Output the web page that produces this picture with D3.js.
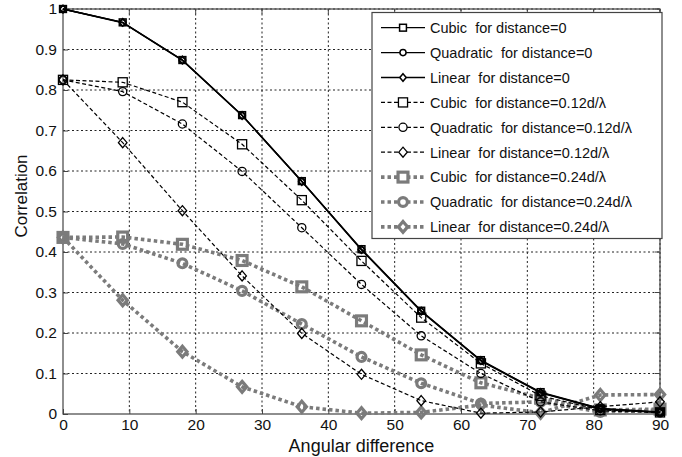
<!DOCTYPE html>
<html>
<head>
<meta charset="utf-8">
<script src="https://cdn.jsdelivr.net/npm/d3@7"></script>
<style>
  body { margin: 0; background: #fff; }
  svg { font-family: "Liberation Sans", Arial, sans-serif; }
</style>
</head>
<body>
<svg id="chart" width="682" height="457"></svg>
<script>
// angles where correlation was evaluated
const angles = [0, 9, 18, 27, 36, 45, 54, 63, 72, 81, 90];
const xTicks = [0, 10, 20, 30, 40, 50, 60, 70, 80, 90];
const yTicks = [0, 0.1, 0.2, 0.3, 0.4, 0.5, 0.6, 0.7, 0.8, 0.9, 1];

const cubic0 = [1.0, 0.967, 0.874, 0.738, 0.575, 0.407, 0.255, 0.133, 0.054, 0.014, 0.005];
const quad0  = [1.0, 0.966, 0.873, 0.737, 0.574, 0.405, 0.253, 0.131, 0.052, 0.012, 0.004];
const lin0   = [1.0, 0.967, 0.874, 0.737, 0.574, 0.406, 0.254, 0.132, 0.053, 0.013, 0.004];

const cubic12 = [0.825, 0.819, 0.770, 0.666, 0.528, 0.378, 0.238, 0.125, 0.045, 0.010, 0.004];
const quad12  = [0.825, 0.796, 0.716, 0.599, 0.460, 0.320, 0.193, 0.100, 0.030, 0.008, 0.003];
const lin12   = [0.825, 0.670, 0.502, 0.341, 0.199, 0.098, 0.033, 0.002, 0.005, 0.018, 0.030];

const cubic24 = [0.436, 0.437, 0.419, 0.379, 0.314, 0.230, 0.146, 0.077, 0.039, 0.010, 0.012];
const quad24  = [0.436, 0.420, 0.372, 0.304, 0.222, 0.141, 0.076, 0.026, 0.030, 0.005, 0.010];
const lin24   = [0.436, 0.281, 0.154, 0.067, 0.018, 0.002, 0.004, 0.022, 0.003, 0.047, 0.048];

const labels = [
  'Cubic  for distance=0', 'Quadratic  for distance=0', 'Linear  for distance=0',
  'Cubic  for distance=0.12d/\u03bb', 'Quadratic  for distance=0.12d/\u03bb', 'Linear  for distance=0.12d/\u03bb',
  'Cubic  for distance=0.24d/\u03bb', 'Quadratic  for distance=0.24d/\u03bb', 'Linear  for distance=0.24d/\u03bb'
];

const gray = '#7b7b7b';
const styles = {
  solid:  { color: '#000', width: 1.3, dash: null, mw: 1.5, size: 0.9 },
  dashed: { color: '#000', width: 1.2, dash: '4,2.5', mw: 1.3, size: 1.2 },
  dotted: { color: gray, width: 3.6, dash: '3.5,3', mw: 3.2, size: 1.3 }
};

const series = [
  { values: cubic0, shape: 'square', style: 'solid' },
  { values: quad0, shape: 'circle', style: 'solid' },
  { values: lin0, shape: 'diamond', style: 'solid' },
  { values: cubic12, shape: 'square', style: 'dashed' },
  { values: quad12, shape: 'circle', style: 'dashed' },
  { values: lin12, shape: 'diamond', style: 'dashed' },
  { values: cubic24, shape: 'square', style: 'dotted' },
  { values: quad24, shape: 'circle', style: 'dotted' },
  { values: lin24, shape: 'diamond', style: 'dotted' }
];

const svg = d3.select('#chart');
const margin = { left: 63, top: 9, right: 22, bottom: 43 };
const width = 682 - margin.left - margin.right;
const height = 457 - margin.top - margin.bottom;

const chart = svg.append('g')
  .attr('transform', `translate(${margin.left}, ${margin.top})`);

const xScale = d3.scaleLinear().domain([0, 90]).range([0, width]);
const yScale = d3.scaleLinear().domain([0, 1]).range([height, 0]);

// dotted grid
chart.append('g')
  .selectAll('line')
  .data(xTicks.slice(1))
  .join('line')
  .attr('x1', d => xScale(d)).attr('x2', d => xScale(d))
  .attr('y1', 0).attr('y2', height)
  .attr('stroke', '#222').attr('stroke-width', 1).attr('stroke-dasharray', '2,2.5');

chart.append('g')
  .selectAll('line')
  .data(yTicks.slice(1))
  .join('line')
  .attr('x1', 0).attr('x2', width)
  .attr('y1', d => yScale(d)).attr('y2', d => yScale(d))
  .attr('stroke', '#222').attr('stroke-width', 1).attr('stroke-dasharray', '2,2.5');

// axes
const xAxis = chart.append('g')
  .attr('transform', `translate(0, ${height})`)
  .call(d3.axisBottom(xScale).tickValues(xTicks).tickSize(-5).tickPadding(4).tickFormat(d3.format('d')));
const yAxis = chart.append('g')
  .call(d3.axisLeft(yScale).tickValues(yTicks).tickSize(-5).tickPadding(6).tickFormat(d => d === 0 || d === 1 ? d : d.toFixed(1)));

[xAxis, yAxis].forEach(a => {
  a.select('.domain').remove();
  a.selectAll('line').attr('stroke', '#444');
  a.selectAll('text').attr('fill', '#111').style('font-size', '15.5px');
});
xAxis.selectAll('text').attr('dy', '0.78em');

// top / right ticks
chart.append('g').selectAll('line').data(xTicks)
  .join('line')
  .attr('x1', d => xScale(d)).attr('x2', d => xScale(d))
  .attr('y1', 0).attr('y2', 5).attr('stroke', '#444');
chart.append('g').selectAll('line').data(yTicks)
  .join('line')
  .attr('x1', width).attr('x2', width - 5)
  .attr('y1', d => yScale(d)).attr('y2', d => yScale(d)).attr('stroke', '#444');

// frame
chart.append('rect')
  .attr('x', 0).attr('y', 0).attr('width', width).attr('height', height)
  .attr('fill', 'none').attr('stroke', '#444').attr('stroke-width', 1.2);

function drawMarker(g, shape, st, x, y) {
  const s = st.size;
  if (shape === 'square') {
    const h = 3.8 * s;
    g.append('rect')
      .attr('x', x - h).attr('y', y - h).attr('width', 2 * h).attr('height', 2 * h);
  } else if (shape === 'circle') {
    g.append('circle').attr('cx', x).attr('cy', y).attr('r', 3.4 * s);
  } else {
    const h = 4.2 * s;
    g.append('path')
      .attr('d', `M${x},${y - h}L${x + h * 0.85},${y}L${x},${y + h}L${x - h * 0.85},${y}Z`);
  }
}

const line = d3.line().x((d, i) => xScale(angles[i])).y(d => yScale(d));

// draw dotted first, then dashed, then solid on top
[...series].reverse().forEach(s => {
  const st = styles[s.style];
  chart.append('path')
    .datum(s.values)
    .attr('d', line)
    .attr('fill', 'none')
    .attr('stroke', st.color)
    .attr('stroke-width', st.width)
    .attr('stroke-dasharray', st.dash);
  const mg = chart.append('g')
    .attr('fill', 'none')
    .attr('stroke', st.color)
    .attr('stroke-width', st.mw);
  s.values.forEach((v, i) => drawMarker(mg, s.shape, st, xScale(angles[i]), yScale(v)));
});

// legend
const legend = svg.append('g').attr('transform', 'translate(372, 12.5)');
legend.append('rect')
  .attr('width', 290).attr('height', 226)
  .attr('fill', '#fff').attr('stroke', '#444').attr('stroke-width', 1.2);

series.forEach((s, i) => {
  const st = styles[s.style];
  const y = 15.2 + i * 24.9;
  const row = legend.append('g');
  row.append('line')
    .attr('x1', 9).attr('x2', 53).attr('y1', y).attr('y2', y)
    .attr('stroke', st.color).attr('stroke-width', st.width)
    .attr('stroke-dasharray', st.dash);
  const mg = row.append('g')
    .attr('fill', '#fff').attr('stroke', st.color).attr('stroke-width', st.mw);
  drawMarker(mg, s.shape, st, 31, y);
  row.append('text')
    .attr('x', 58).attr('y', y + 5.3)
    .style('font-size', '14.5px')
    .attr('fill', '#111')
    .attr('xml:space', 'preserve')
    .style('white-space', 'pre')
    .text(labels[i]);
});

// axis titles
svg.append('text')
  .attr('x', margin.left + width / 2)
  .attr('y', 452)
  .attr('text-anchor', 'middle')
  .style('font-size', '18px')
  .attr('fill', '#111')
  .text('Angular difference');

svg.append('text')
  .attr('transform', 'translate(27, 196) rotate(-90)')
  .attr('text-anchor', 'middle')
  .style('font-size', '17px')
  .attr('fill', '#111')
  .text('Correlation');
</script>
</body>
</html>
